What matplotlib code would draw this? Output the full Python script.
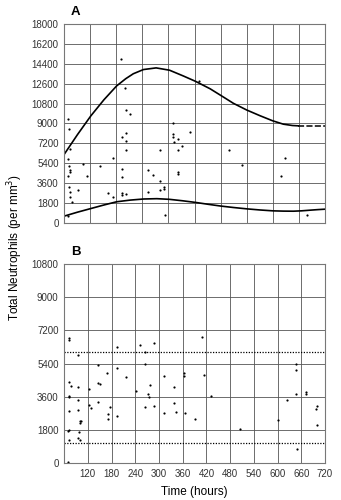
import numpy as np
import matplotlib.pyplot as plt

plt.rcParams['font.family'] = ['Liberation Sans', 'DejaVu Sans']

# panel A: fitted envelope curves (hours, cells per mm3)
upper_t = [0, 37, 74, 110, 145, 170, 191, 219, 254, 291, 329, 363, 403, 433,
           467, 504, 541, 576, 605, 630, 646]
upper_v = [6200, 8000, 9700, 11150, 12400, 13050, 13500, 13880, 14030, 13820,
           13300, 12810, 12140, 11530, 10830, 10220, 9700, 9240, 8940, 8820, 8790]
upper_tail_t = [646, 720]
upper_tail_v = [8790, 8790]

lower_t = [0, 37, 74, 110, 145, 182, 219, 256, 291, 327, 363, 398, 433, 468,
           504, 540, 576, 605, 633, 655, 679, 700, 720]
lower_v = [620, 980, 1310, 1630, 1920, 2070, 2170, 2200, 2140, 2010, 1860, 1690,
           1530, 1400, 1280, 1180, 1100, 1075, 1068, 1100, 1160, 1210, 1250]

# panel A: observations
a_t = [12, 14, 17, 12, 13, 15, 16, 12, 14, 16, 17, 22, 12, 37, 51, 63, 99, 122,
       134, 135, 156, 168, 170, 182, 159, 170, 170, 171, 159, 159, 159, 159, 171,
       231, 244, 231, 265, 265, 265, 277, 277, 279, 300, 300, 300, 302, 314, 313,
       325, 315, 315, 348, 372, 456, 492, 599, 611, 671]
a_v = [9400, 8540, 6710, 5800, 5120, 4820, 4580, 4270, 3300, 2840, 2380, 1920,
       610, 2990, 5370, 4210, 5120, 2750, 2380, 5890, 14830, 12200, 10250, 9850,
       7780, 8110, 7410, 6560, 4880, 4120, 2750, 2530, 2620, 4760, 4360, 2840,
       6560, 3810, 2990, 3300, 3110, 760, 9090, 8020, 7810, 7320, 7570, 6590,
       6960, 4580, 4450, 8240, 12880, 6560, 5280, 4210, 5890, 700]

# panel B: observations
b_t = [72, 73, 96, 73, 77, 95, 73, 73, 96, 73, 95, 99, 99, 102, 71, 73, 98, 73,
       94, 100, 71, 122, 128, 122, 145, 147, 151, 145, 168, 170, 170, 176, 193,
       193, 193, 217, 242, 252, 265, 288, 265, 271, 275, 277, 265, 288, 313, 313,
       337, 337, 343, 363, 363, 367, 391, 410, 414, 431, 505, 600, 623, 646, 646,
       646, 648, 672, 672, 697, 701, 701]
b_v = [6810, 6670, 5850, 4400, 4170, 4130, 3640, 3590, 3440, 2830, 2860, 2280,
       2170, 2270, 1720, 1810, 1690, 1270, 1360, 1270, 70, 4000, 2970, 3170, 5310,
       4350, 4280, 3320, 4890, 2650, 2410, 3040, 6270, 5130, 2560, 4680, 3900,
       6400, 6030, 6520, 5400, 3720, 3590, 4260, 3040, 3080, 4730, 2720, 4130,
       3280, 2770, 4860, 4730, 2720, 2370, 6850, 4770, 3640, 1870, 2320, 3440,
       5400, 5040, 3770, 780, 3860, 3770, 2950, 3080, 2080]
b_ref = [6000, 1100]

a_yticks = np.arange(0, 18001, 1800)
b_yticks = np.arange(0, 10801, 1800)
b_xticks = np.arange(120, 721, 60)

grid_col = '#555555'
fig = plt.figure(figsize=(3.41, 5.0), dpi=100)
axA = fig.add_axes([0.188, 0.554, 0.765, 0.398])
axB = fig.add_axes([0.188, 0.074, 0.765, 0.398])

for ax in (axA, axB):
    for s in ax.spines.values():
        s.set_color('#777777')
        s.set_linewidth(0.8)
    ax.tick_params(length=0, labelsize=7, pad=4, colors='#333333')

# A
axA.set_xlim(0, 720)
axA.set_ylim(0, 18000)
axA.set_xticks(np.arange(0, 721, 72))
axA.set_xticklabels([])
axA.set_yticks(a_yticks)
axA.set_yticklabels([str(v) for v in a_yticks])
axA.grid(True, color=grid_col, lw=0.6)
axA.set_axisbelow(True)
axA.plot(upper_t, upper_v, color='black', lw=1.2)
axA.plot(upper_tail_t, upper_tail_v, color='black', lw=1.1, ls=(0, (4, 1.5)))
axA.plot(lower_t, lower_v, color='black', lw=1.2)
axA.scatter(a_t, a_v, s=2.5, color='black', linewidths=0)
axA.text(0.025, 1.03, 'A', transform=axA.transAxes, fontsize=9.5,
         fontweight='bold', ha='left', va='bottom')

# B
axB.set_xlim(60, 720)
axB.set_ylim(0, 10800)
axB.set_xticks(b_xticks)
axB.set_xticklabels([str(v) for v in b_xticks])
axB.set_yticks(b_yticks)
axB.set_yticklabels([str(v) for v in b_yticks])
axB.grid(True, color=grid_col, lw=0.6)
axB.set_axisbelow(True)
for r in b_ref:
    axB.axhline(r, color='black', lw=0.9, ls=(0, (1, 1.2)))
axB.scatter(b_t, b_v, s=2.5, color='black', linewidths=0)
axB.text(0.025, 1.03, 'B', transform=axB.transAxes, fontsize=9.5,
         fontweight='bold', ha='left', va='bottom')
axB.set_xlabel('Time (hours)', fontsize=8.5, labelpad=5)

fig.text(0.045, 0.505, 'Total Neutrophils (per mm$^3$)', rotation=90,
         fontsize=8.5, ha='center', va='center')

fig.savefig('out.png', dpi=100)
